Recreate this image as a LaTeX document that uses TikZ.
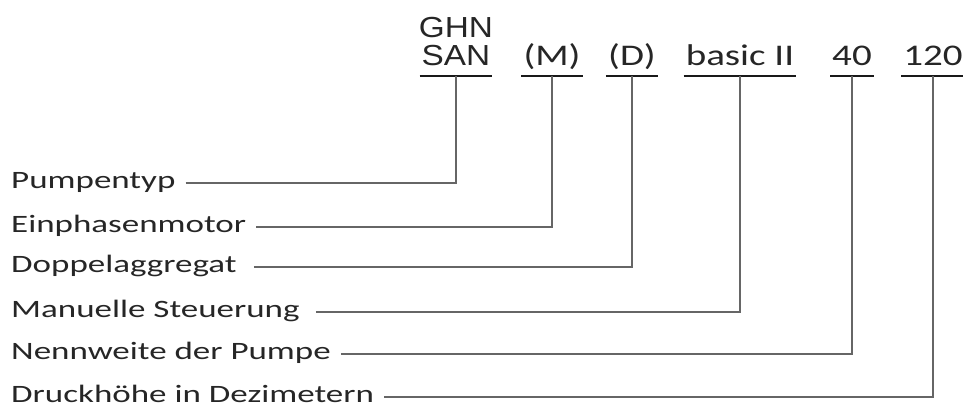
\documentclass[tikz,border=0pt]{standalone}
\usepackage{fontspec}
\usepackage{tikz}
\usetikzlibrary{positioning}

\newfontfamily\lblfont[FakeStretch=1.4]{Carlito}
\newfontfamily\hdrfont[FakeStretch=1.3]{Carlito}
\newfontfamily\typfont[FakeStretch=1.15]{Liberation Sans}

\begin{document}
\begin{tikzpicture}[
    x=1pt, y=-1pt,
    lbl/.style={anchor=west, font=\lblfont\fontsize{25}{30}\selectfont, text=black!85, text height=15pt, text depth=5pt, inner xsep=10pt, inner ysep=0pt},
    hdr/.style={anchor=south, font=\hdrfont\fontsize{30}{36}\selectfont, text=black!85, text height=21pt, text depth=10pt, inner xsep=2pt, inner ysep=0pt},
    typ/.style={hdr, font=\typfont\fontsize{29}{34}\selectfont},
    uline/.style={line width=1.8pt, black!90},
    conn/.style={line width=1.5pt, black!60}
]
    \useasboundingbox (0,0) rectangle (963,407);

    % Type code
    \node[typ] (hTyp) at (456,76) {SAN};
    \node[typ, anchor=base] (hGhn) at ([yshift=28pt]hTyp.base) {GHN};
    \node[hdr] (hMot) at (552,76) {(M)};
    \node[hdr] (hDop) at (632,76) {(D)};
    \node[hdr] (hSteu) at (740,76) {basic II};
    \node[hdr] (hDn) at (852,76) {40};
    \node[hdr] (hDh) at (933,76) {120};

    \foreach \h in {hTyp,hMot,hDop,hSteu,hDn,hDh}
        \draw[uline] (\h.south west) -- (\h.south east);

    % Meanings
    \node[lbl] (lTyp) at (1,183) {Pumpentyp};
    \node[lbl] (lMot) at (1,227) {Einphasenmotor};
    \node[lbl] (lDop) at (1,267) {Doppelaggregat};
    \node[lbl] (lSteu) at (1,312) {Manuelle Steuerung};
    \node[lbl] (lDn) at (1,354) {Nennweite der Pumpe};
    \node[lbl] (lDh) at (1,397) {Druckhöhe in Dezimetern};

    % Leaders
    \draw[conn] (lTyp.east) -| (hTyp.south);
    \draw[conn] (lMot.east) -| (hMot.south);
    \draw[conn] ([xshift=7pt]lDop.east) -| (hDop.south);
    \draw[conn] ([xshift=6pt]lSteu.east) -| (hSteu.south);
    \draw[conn] (lDn.east) -| (hDn.south);
    \draw[conn] (lDh.east) -| (hDh.south);
\end{tikzpicture}
\end{document}
